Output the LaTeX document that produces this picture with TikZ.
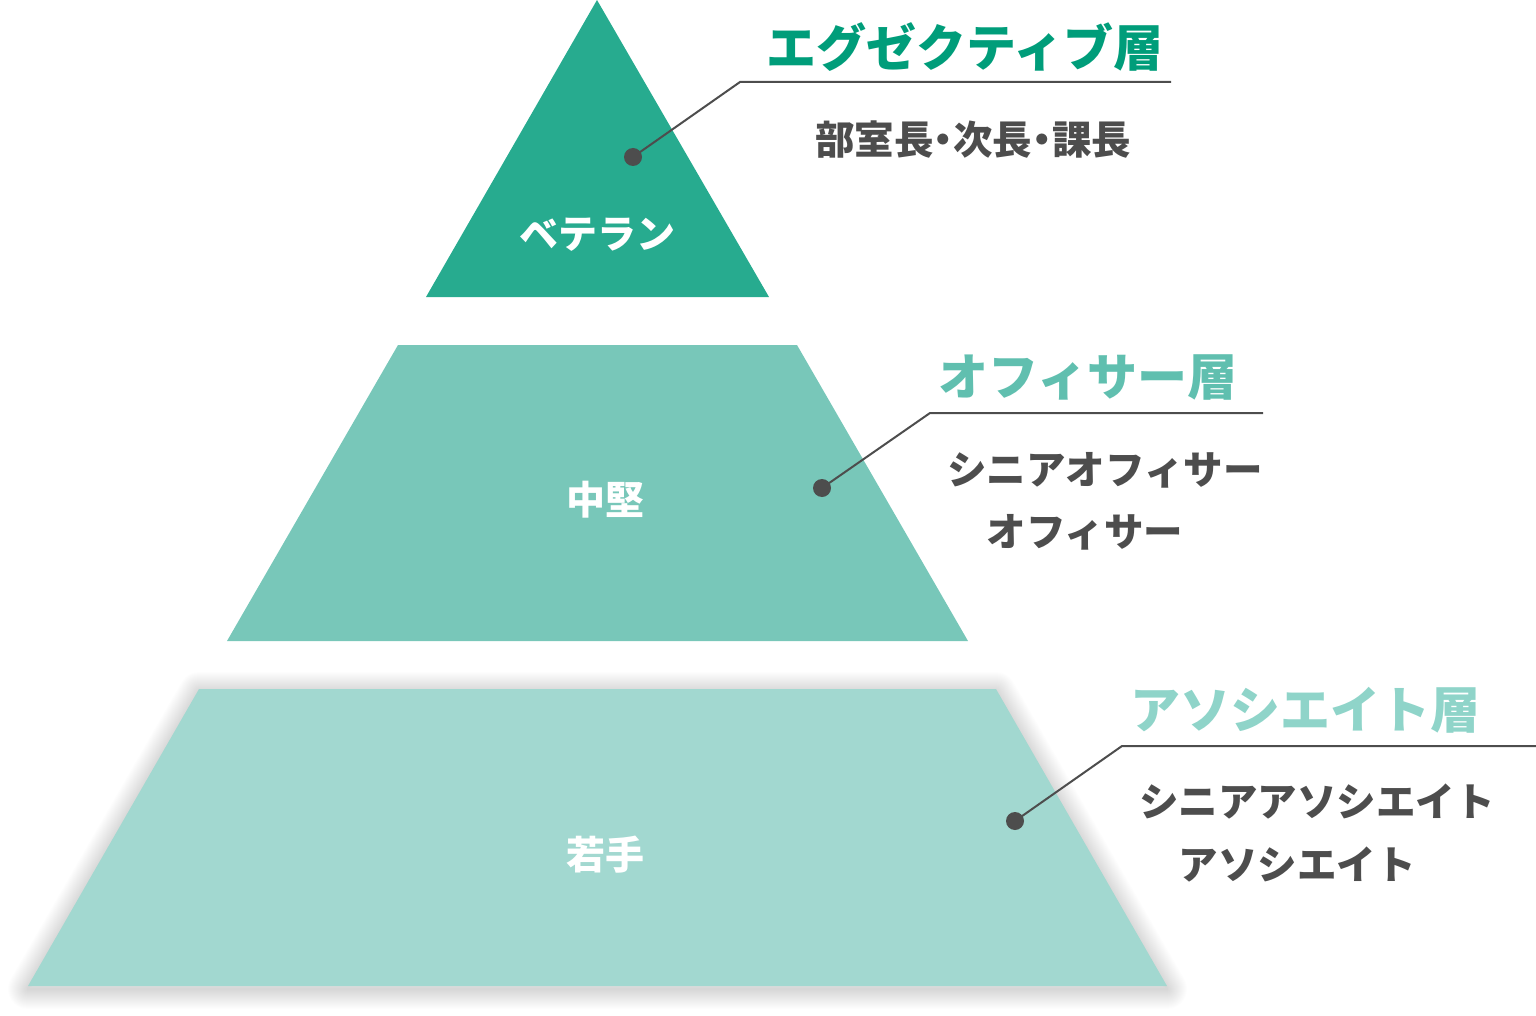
\documentclass[tikz,border=0pt]{standalone}
\usepackage{fontspec}
\newfontfamily\jp[BoldFont={Noto Sans CJK JP Black}]{Noto Sans CJK JP}
\definecolor{cone}{HTML}{27AB8F}
\definecolor{tone}{HTML}{009D7A}
\definecolor{ctwo}{HTML}{78C7B9}
\definecolor{ttwo}{HTML}{60BFAF}
\definecolor{cthree}{HTML}{A2D8D0}
\definecolor{tthree}{HTML}{8FD4C9}
\definecolor{darkg}{HTML}{4D4D4D}
\tikzset{
  inner/.style={text=white, font=\jp\bfseries\fontsize{39}{39}\selectfont, inner sep=0pt},
  ttl/.style={font=\jp\bfseries\fontsize{50}{50}\selectfont, inner sep=0pt},
  sub/.style={text=darkg, font=\jp\bfseries\fontsize{39.5}{39.5}\selectfont, inner sep=0pt},
  dotn/.style={circle, fill=darkg, minimum size=18pt, inner sep=0pt},
  lead/.style={draw=darkg, line width=2pt}
}
\begin{document}
\begin{tikzpicture}[x=1pt,y=-1pt]
\useasboundingbox (0,0) rectangle (1536,1016);
% bottom layer shadow
\foreach \w in {2,4,...,40}{
  \draw[black, opacity=0.0065, line width=\w pt, line join=round]
    (199,692) -- (996,692) -- (1167,989) -- (28,989) -- cycle;
}
% shapes
\fill[cthree] (199,689) -- (996,689) -- (1167,986) -- (28,986) -- cycle;
\fill[ctwo] (398,345) -- (797,345) -- (968,641) -- (227,641) -- cycle;
\fill[cone] (597,0) -- (769,297) -- (426,297) -- cycle;
% inner labels
\node[inner] (n1) at (597,235) {ベテラン};
\node[inner] (n2) at (605,500) {中堅};
\node[inner] (n3) at (605,855) {若手};
% callout 1
\coordinate (e1) at (740,82);
\coordinate (l1) at (1171,82);
\node[dotn] (d1) at (633,157) {};
\draw[lead] (d1.center) -- (e1) -- (l1);
\node[ttl, text=tone] (t1) at (965,47) {エグゼクティブ層};
\node[sub, font=\jp\bfseries\fontsize{39.5}{39.5}\selectfont\addfontfeatures{RawFeature=+palt}] (s1) at (973,140) {部室長・次長・課長};
% callout 2
\coordinate (e2) at (930,413);
\coordinate (l2) at (1263,413);
\node[dotn] (d2) at (822,488) {};
\draw[lead] (d2.center) -- (e2) -- (l2);
\node[ttl, text=ttwo] (t2) at (1088,377) {オフィサー層};
\node[sub] (s2a) at (1105,470) {シニアオフィサー};
\node[sub] (s2b) at (1085,532) {オフィサー};
% callout 3
\coordinate (e3) at (1122,746);
\coordinate (l3) at (1536,746);
\node[dotn] (d3) at (1015,821) {};
\draw[lead] (d3.center) -- (e3) -- (l3);
\node[ttl, text=tthree] (t3) at (1305,710) {アソシエイト層};
\node[sub] (s3a) at (1317,802) {シニアアソシエイト};
\node[sub] (s3b) at (1297,865) {アソシエイト};
\end{tikzpicture}
\end{document}
